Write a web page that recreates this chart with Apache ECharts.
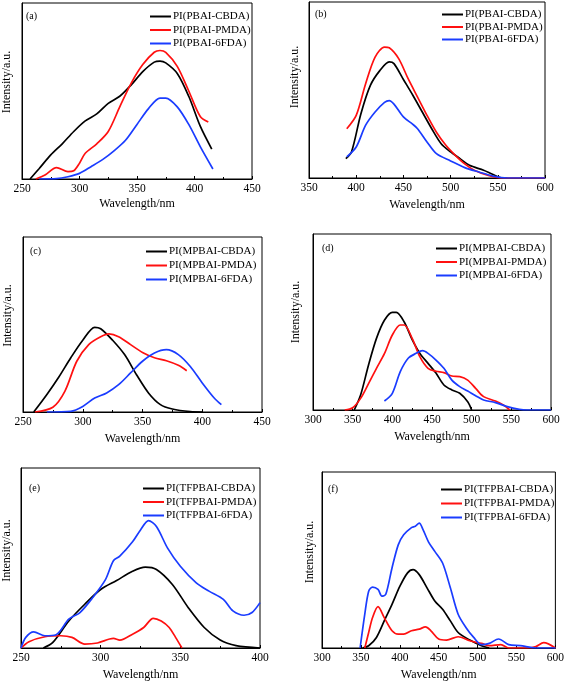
<!DOCTYPE html>
<html><head><meta charset="utf-8">
<script src="https://cdn.jsdelivr.net/npm/echarts@6/dist/echarts.min.js"></script>
<style>html,body{margin:0;padding:0;background:#fff}#c{width:567px;height:682px}</style>
</head><body><div id="c"></div>
<script>
// ---- data (wavelength nm, relative intensity) ----
const namesA = ['PI(PBAI-CBDA)','PI(PBAI-PMDA)','PI(PBAI-6FDA)'];
const namesC = ['PI(MPBAI-CBDA)','PI(MPBAI-PMDA)','PI(MPBAI-6FDA)'];
const namesE = ['PI(TFPBAI-CBDA)','PI(TFPBAI-PMDA)','PI(TFPBAI-6FDA)'];
const panelLabels = ['(a)','(b)','(c)','(d)','(e)','(f)'];
const xRanges = [[250,450],[350,600],[250,450],[300,600],[250,400],[300,600]];

const aCBDA = [[257,0],[265,6],[275,13.7],[285,20],[295,27],[305,33],[315,37],[325,43],[335,47],[345,53.5],[355,61],[365,66.4],[370,67],[375,66],[385,60],[395,47],[405,30],[415,17]];
const aPMDA = [[262,0],[270,2.3],[280,6.5],[290,4.2],[295,4.7],[300,9],[305,14.6],[315,20],[325,27],[335,41],[345,54.5],[355,65],[365,72],[370,73],[375,72],[385,64],[395,50],[405,35.5],[412,32.4]];
const a6FDA = [[265,0],[280,0.2],[290,1.3],[300,3.2],[310,7],[320,11],[330,16],[340,22],[350,31],[360,40],[370,46],[375,46],[385,41],[395,31],[405,18.4],[416,5.7]];

const bCBDA = [[389,11],[395,14.8],[405,36.5],[415,52.6],[425,61],[435,66],[440,65],[450,56],[460,47],[470,37.5],[480,28],[490,19.5],[500,14.8],[510,11],[520,7.2],[535,4.4],[545,2],[555,0],[560,0]];
const bPMDA = [[390,28],[400,35.6],[410,53.6],[420,68.7],[430,74.4],[435,74],[445,67.8],[455,56.4],[465,46],[475,35.6],[485,26],[495,18.6],[505,12.9],[515,8],[525,4.4],[540,1.5],[555,0],[600,0]];
const b6FDA = [[390,12],[400,17.6],[410,30],[420,37.5],[430,43],[435,44],[440,42],[450,34.7],[460,30.5],[465,28],[475,20.5],[485,13.8],[500,9.7],[515,5.9],[530,3.4],[545,1.1],[560,0],[600,0]];

const cCBDA = [[259,0],[270,10],[280,20],[290,31],[300,41],[310,48.4],[315,47.6],[325,41],[335,32.8],[345,21.3],[355,10.9],[365,4.2],[375,1.7],[390,0.2],[400,0]];
const cPMDA = [[260,0],[275,2.7],[285,11.8],[295,29],[305,38.5],[315,43],[322,44.6],[330,43],[340,38.5],[350,34],[360,31],[370,29.3],[380,26.7],[387,23.6]];
const c6FDA = [[270,0],[290,0.4],[300,3.2],[310,8],[320,10.9],[330,15.6],[340,22.3],[350,29],[360,33.7],[370,35.6],[380,32.8],[390,26],[400,16.6],[410,8],[416,4.2]];

const dCBDA = [[352,0],[360,8.5],[370,25.6],[380,40.7],[390,51],[400,55.5],[405,55.5],[415,50],[425,40],[435,32],[445,26.5],[455,21],[465,14.2],[475,11.4],[485,9.5],[495,4.7],[500,0]];
const dPMDA = [[340,0],[350,1.3],[360,6.6],[370,15],[380,23.7],[390,32],[400,42.6],[410,48.3],[415,48.3],[425,40.7],[435,30],[445,23.7],[455,22],[465,21.2],[475,19.3],[485,19],[495,17],[505,12.3],[515,7.6],[530,5.1],[540,2.8],[548,0]];
const d6FDA = [[390,5.1],[400,9.5],[410,21.8],[420,29.4],[430,32.2],[438,33.7],[445,32.2],[455,28.4],[465,23.7],[475,17],[485,13.3],[495,10.8],[505,8.1],[515,5.7],[530,4.2],[545,1.9],[560,0.4],[570,0],[600,0]];

const eCBDA = [[264,0],[270,3.1],[280,15],[290,24.3],[300,32.5],[310,37.5],[320,42.6],[328,44.9],[335,43.6],[345,35.3],[355,22.4],[365,11.4],[375,4.4],[385,1.3],[400,0]];
const ePMDA = [[250,0],[255,3.5],[265,6.25],[275,6.8],[282,5.9],[290,2.2],[298,2.8],[308,5.3],[312,4.4],[320,7.7],[327,11.4],[333,16.5],[338,15],[343,11.4],[347,5.9],[351,0]];
const e6FDA = [[250,0],[253,5.9],[258,9],[265,6.8],[272,7.4],[280,16],[287,19.7],[295,28],[303,38],[308,48.5],[312,51],[320,59],[325,65.6],[330,70.8],[335,67.5],[342,55.5],[350,45.4],[360,36.2],[368,31.6],[377,27],[383,20.6],[390,18.2],[395,19.7],[400,25.2]];

const fCBDA = [[352,0],[360,1.3],[370,6],[380,15.4],[390,24.8],[400,35],[410,42.7],[417,44.5],[425,41.7],[435,34.2],[445,26.7],[455,22],[465,15.4],[475,8.8],[490,4.5],[505,1.3],[515,0]];
const fPMDA = [[355,0],[360,8.8],[365,17.3],[372,23.5],[380,17.3],[390,9.8],[398,7.9],[405,7.9],[415,9.8],[425,10.7],[433,12],[440,9.8],[450,5.1],[460,4.5],[475,6.4],[490,4.1],[505,2.6],[515,1.3],[530,1.9],[540,0],[565,0],[575,0.8],[585,3],[600,0]];
const f6FDA = [[349,0],[355,19.2],[360,32.3],[365,34.6],[372,33.3],[377,29.5],[382,30.5],[390,45.5],[398,58.6],[405,64.3],[415,68.4],[420,69.2],[425,70.9],[430,67.1],[437,60.2],[445,54.9],[455,48.3],[465,34.2],[475,19.2],[485,11.7],[495,6],[505,1.9],[515,2.6],[527,5.1],[540,1.9],[555,1.3],[575,0],[600,0]];

const panelData = [
  [aCBDA,aPMDA,a6FDA],[bCBDA,bPMDA,b6FDA],
  [cCBDA,cPMDA,c6FDA],[dCBDA,dPMDA,d6FDA],
  [eCBDA,ePMDA,e6FDA],[fCBDA,fPMDA,f6FDA]
];
const panelNames = [namesA,namesA,namesC,namesC,namesE,namesE];

// ---- layout ----
const grids = [
  {left:22,top:3,width:230,height:176},
  {left:309,top:2,width:236,height:176},
  {left:23,top:237,width:239,height:175},
  {left:313,top:234,width:238,height:176},
  {left:21,top:468,width:239,height:181},
  {left:322,top:472,width:236,height:177}
];
const legendPos = [
  {left:150,top:11},{left:442,top:9},{left:146,top:246},
  {left:436,top:243},{left:143,top:483},{left:441,top:484}
];
const legendGap = [2.5,1.5,3,2.5,2.5,3];
const labelPos = [
  {left:26,top:11},{left:315,top:9},{left:30,top:246},
  {left:322,top:243},{left:29,top:483},{left:328,top:484}
];
const yGap = [9,8,9,11,8,6];
const yShift = [18,26,18,20,15,16];
const xGap = [19,21,21,21,21,21];
const colors = ['#000000','#ff1010','#1a3cff'];
const FONT = '"Liberation Serif","Times New Roman",serif';

const option = {
  animation:false,
  backgroundColor:'#fff',
  grid: grids.map(g=>Object.assign({show:true,borderColor:'#000',borderWidth:1,containLabel:false},g)),
  title: panelLabels.map((t,i)=>Object.assign({text:t,textStyle:{fontFamily:FONT,fontSize:10,fontWeight:'normal',color:'#000'},padding:0},labelPos[i])),
  legend: panelNames.map((names,i)=>Object.assign({
    data:names, orient:'vertical', icon:'rect', itemWidth:21, itemHeight:2, itemGap:legendGap[i], padding:0,
    textStyle:{fontFamily:FONT,fontSize:11,color:'#000',padding:[0,0,0,-3]},
    selectedMode:false
  },legendPos[i])),
  xAxis: xRanges.map((r,i)=>({
    type:'value', gridIndex:i, min:r[0], max:r[1], interval:50,
    name:'Wavelength/nm', nameLocation:'middle', nameGap:xGap[i],
    nameTextStyle:{fontFamily:FONT,fontSize:12,color:'#000'},
    axisLine:{lineStyle:{color:'#000',width:1}},
    axisTick:{inside:true,length:3,lineStyle:{color:'#000'}},
    minorTick:{show:true,splitNumber:2,length:2,lineStyle:{color:'#000'}},
    axisLabel:{fontFamily:FONT,fontSize:11.5,color:'#000',margin:4},
    splitLine:{show:false}
  })),
  yAxis: grids.map((g,i)=>({
    type:'value', gridIndex:i, min:0, max:100,
    name:'Intensity/a.u.', nameLocation:'middle', nameGap:yGap[i],
    nameTextStyle:{fontFamily:FONT,fontSize:12,color:'#000',padding:[0,0,0,yShift[i]]},
    axisLine:{show:true,lineStyle:{color:'#000'}},
    axisTick:{show:false}, axisLabel:{show:false}, splitLine:{show:false}
  })),
  series: []
};
panelData.forEach((arr,i)=>{
  arr.forEach((d,k)=>{
    option.series.push({
      type:'line', name:panelNames[i][k], xAxisIndex:i, yAxisIndex:i,
      data:d, smooth:0.3, symbol:'none', showSymbol:false,
      lineStyle:{color:colors[k],width:1.7}, itemStyle:{color:colors[k]}
    });
  });
});
const chart = echarts.init(document.getElementById('c'),null,{renderer:'canvas'});
chart.setOption(option);
</script></body></html>
